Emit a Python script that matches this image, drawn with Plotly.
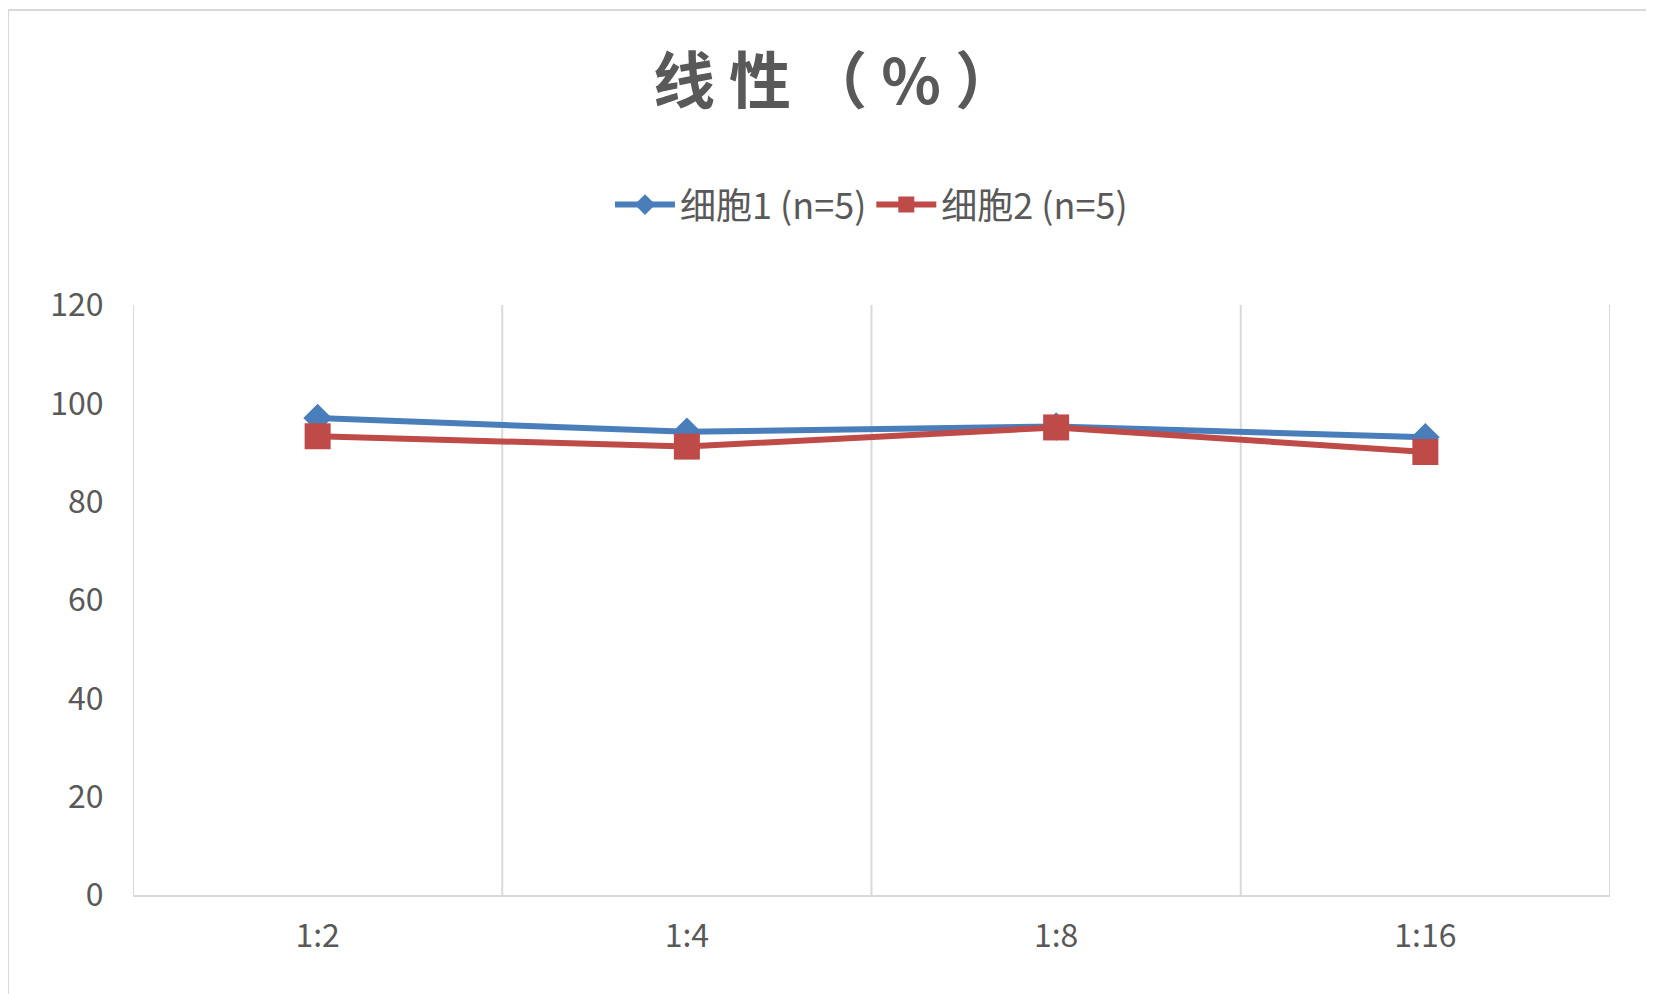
import plotly.graph_objects as go

categories = ["1:2", "1:4", "1:8", "1:16"]
cell1 = [97.0, 94.2, 95.3, 93.1]
cell2 = [93.3, 91.2, 95.1, 90.1]
x_pos = [0.5, 1.5, 2.5, 3.5]

font = "Noto Sans CJK SC"
grey = "#595959"

fig = go.Figure()
fig.add_trace(go.Scatter(
    x=x_pos, y=cell1, name="细胞1 (n=5)", mode="lines+markers",
    line=dict(color="#4a7ebb", width=6),
    marker=dict(symbol="diamond", size=22, color="#4a7ebb"),
))
fig.add_trace(go.Scatter(
    x=x_pos, y=cell2, name="细胞2 (n=5)", mode="lines+markers",
    line=dict(color="#be4b48", width=6),
    marker=dict(symbol="square", size=26, color="#be4b48"),
))

fig.update_layout(
    width=1654, height=994,
    paper_bgcolor="white", plot_bgcolor="white",
    margin=dict(l=125, r=52, t=297, b=107),
    font=dict(family=font, color=grey),
    title=dict(text="<b>线 性 （ % ）</b>", x=0.5, xanchor="center",
               y=0.925, yanchor="middle", font=dict(size=62, color=grey)),
    legend=dict(orientation="h", x=0.5, xanchor="center", y=1.17, yanchor="middle",
                font=dict(size=36, color=grey), itemwidth=60),
    showlegend=True,
)
fig.update_xaxes(
    range=[0, 4], tickvals=x_pos, ticktext=categories,
    showgrid=False, zeroline=False,
    showline=True, linecolor="#d9d9d9", linewidth=2,
    tickfont=dict(size=32, color=grey), ticks="outside", ticklen=12, tickcolor="white",
)
for g in [0, 1, 2, 3, 4]:
    fig.add_vline(x=g, line=dict(color="#d9d9d9", width=2), layer="below")
fig.update_yaxes(
    range=[0, 120], dtick=20, showgrid=False, zeroline=False,
    tickfont=dict(size=32, color=grey), ticks="outside", ticklen=22, tickcolor="white",
)
fig.add_shape(type="rect", xref="paper", yref="paper",
              x0=-125 / 1477, x1=1 + 50 / 1477, y0=-105 / 590, y1=1 + 295 / 590,
              line=dict(color="#d9d9d9", width=2))

fig.write_html("out.html")
